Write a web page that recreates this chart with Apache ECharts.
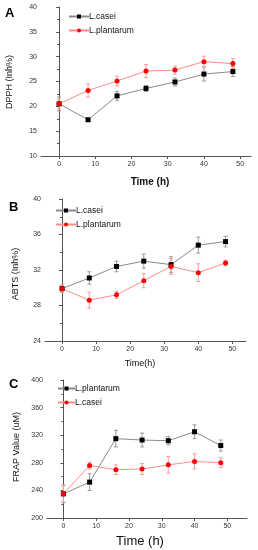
<!DOCTYPE html>
<html><head><meta charset="utf-8">
<script src="https://cdn.jsdelivr.net/npm/echarts@6/dist/echarts.min.js"></script>
<style>html,body{margin:0;padding:0;background:#fff}#c{width:258px;height:550px}</style>
</head><body><div id="c"></div>
<script>
var times = [0, 8, 16, 24, 32, 40, 48];
// Panel A: DPPH
var dpphCasei = [20.5, 17.3, 22.1, 23.6, 24.9, 26.5, 27.0];
var dpphCaseiErr = [1.4, 0.3, 0.9, 0.6, 0.8, 1.4, 1.0];
var dpphPlant = [20.5, 23.2, 25.1, 27.1, 27.3, 29.0, 28.6];
var dpphPlantErr = [1.0, 1.3, 1.0, 1.3, 0.8, 1.1, 1.0];
// Panel B: ABTS
var abtsCasei = [29.9, 31.1, 32.4, 33.0, 32.6, 34.8, 35.2];
var abtsCaseiErr = [0.4, 0.7, 0.6, 0.8, 0.9, 0.9, 0.6];
var abtsPlant = [29.9, 28.6, 29.2, 30.8, 32.4, 31.7, 32.8];
var abtsPlantErr = [0.4, 0.9, 0.4, 0.8, 0.9, 1.0, 0.3];
// Panel C: FRAP
var frapPlant = [235, 252, 315, 313, 312, 325, 305];
var frapPlantErr = [12, 12, 12, 10, 6, 10, 8];
var frapCasei = [235, 276, 270, 271, 277, 282, 280];
var frapCaseiErr = [13, 5, 7, 8, 12, 11, 7];

var BLACK_LINE = '#8a8a8a', BLACK_MARK = '#000000';
var RED_LINE = '#ff8c8c', RED_MARK = '#ff0000';
var ERR_BLACK = '#9a9a9a', ERR_RED = '#ff9a9a';

function pairs(v){ return times.map(function(t,i){ return [t, v[i]]; }); }
function errData(v,e){ return times.map(function(t,i){ return [t, v[i]-e[i], v[i]+e[i]]; }); }

function errSeries(idx, v, e, color){
  return {
    type:'custom', xAxisIndex:idx, yAxisIndex:idx, silent:true, z:1,
    data: errData(v,e),
    renderItem:function(params, api){
      var lo = api.coord([api.value(0), api.value(1)]);
      var hi = api.coord([api.value(0), api.value(2)]);
      var w = 2;
      var st = {stroke:color, lineWidth:1};
      return {type:'group', children:[
        {type:'line', shape:{x1:lo[0],y1:lo[1],x2:hi[0],y2:hi[1]}, style:st},
        {type:'line', shape:{x1:lo[0]-w,y1:lo[1],x2:lo[0]+w,y2:lo[1]}, style:st},
        {type:'line', shape:{x1:hi[0]-w,y1:hi[1],x2:hi[0]+w,y2:hi[1]}, style:st}
      ]};
    }
  };
}
function lineSeries(idx, name, v, black){
  return {
    type:'line', name:name, xAxisIndex:idx, yAxisIndex:idx, z:3,
    data:pairs(v), symbol: black ? 'rect' : 'circle', symbolSize: black ? 5 : 5,
    lineStyle:{color: black ? BLACK_LINE : RED_LINE, width:1},
    itemStyle:{color: black ? BLACK_MARK : RED_MARK},
    emphasis:{disabled:true}, animation:false
  };
}

var labelStyle = {fontFamily:'Liberation Sans, Arial', fontSize:7, color:'#333'};
function xAxis(idx, max){
  return {gridIndex:idx, type:'value', min:-5, max:max, interval:10,
    axisLine:{onZero:false, lineStyle:{color:'#555', width:1}},
    axisTick:{show:true, inside:false, length:3, lineStyle:{color:'#555'}, customValues:[0,10,20,30,40,50]},
    minorTick:{show:true, splitNumber:2, length:2, lineStyle:{color:'#555'}},
    splitLine:{show:false},
    axisLabel:Object.assign({margin:5, customValues:[0,10,20,30,40,50]}, labelStyle)
  };
}
function yAxis(idx, min, max, interval){
  return {gridIndex:idx, type:'value', min:min, max:max, interval:interval,
    axisLine:{show:true, lineStyle:{color:'#555', width:1}},
    axisTick:{show:true, inside:false, length:3, lineStyle:{color:'#555'}},
    minorTick:{show:true, splitNumber:2, length:2, lineStyle:{color:'#555'}},
    splitLine:{show:false},
    axisLabel:Object.assign({margin:4}, labelStyle)
  };
}
var legText = {fontFamily:'Liberation Sans, Arial', fontSize:8.5, color:'#111', padding:[0,0,0,-5]};

var option = {
  animation:false,
  grid:[
    {left:41, top:7, width:210, height:149},
    {left:45, top:199, width:201, height:142},
    {left:47, top:380, width:200, height:138}
  ],
  xAxis:[xAxis(0,53), xAxis(1,54), xAxis(2,56)],
  yAxis:[yAxis(0,10,40,5), yAxis(1,24,40,4), yAxis(2,200,400,40)],
  legend:[
    {data:['L.casei','L.plantarum'], left:68, top:12, orient:'vertical', itemWidth:20, itemHeight:5, itemGap:5, padding:0, selectedMode:false, textStyle:legText},
    {data:['L.casei ','L.plantarum '], left:55, top:206, orient:'vertical', itemWidth:20, itemHeight:5, itemGap:5, padding:0, selectedMode:false, textStyle:legText},
    {data:['L.plantarum  ','L.casei  '], left:57, top:384, orient:'vertical', itemWidth:17, itemHeight:5, itemGap:5, padding:0, selectedMode:false, textStyle:legText}
  ],
  series:[
    errSeries(0, dpphCasei, dpphCaseiErr, ERR_BLACK),
    errSeries(0, dpphPlant, dpphPlantErr, ERR_RED),
    lineSeries(0, 'L.casei', dpphCasei, true),
    lineSeries(0, 'L.plantarum', dpphPlant, false),
    errSeries(1, abtsCasei, abtsCaseiErr, ERR_BLACK),
    errSeries(1, abtsPlant, abtsPlantErr, ERR_RED),
    lineSeries(1, 'L.casei ', abtsCasei, true),
    lineSeries(1, 'L.plantarum ', abtsPlant, false),
    errSeries(2, frapPlant, frapPlantErr, ERR_BLACK),
    errSeries(2, frapCasei, frapCaseiErr, ERR_RED),
    lineSeries(2, 'L.plantarum  ', frapPlant, true),
    lineSeries(2, 'L.casei  ', frapCasei, false)
  ],
  graphic:[
    {type:'text', left:5, top:7, style:{text:'A', font:'bold 13px Liberation Sans, Arial', fill:'#000'}},
    {type:'text', left:9, top:201, style:{text:'B', font:'bold 13px Liberation Sans, Arial', fill:'#000'}},
    {type:'text', left:9, top:378, style:{text:'C', font:'bold 13px Liberation Sans, Arial', fill:'#000'}},
    {type:'text', x:10, y:82, rotation:Math.PI/2, style:{text:'DPPH (Inh%)', font:'9px Liberation Sans, Arial', fill:'#111', align:'center', verticalAlign:'middle'}},
    {type:'text', x:16, y:274, rotation:Math.PI/2, style:{text:'ABTS (Inh%)', font:'9px Liberation Sans, Arial', fill:'#111', align:'center', verticalAlign:'middle'}},
    {type:'text', x:17, y:447, rotation:Math.PI/2, style:{text:'FRAP Value (uM)', font:'9px Liberation Sans, Arial', fill:'#111', align:'center', verticalAlign:'middle'}},
    {type:'text', x:150, y:182, style:{text:'Time (h)', font:'bold 10px Liberation Sans, Arial', fill:'#111', align:'center', verticalAlign:'middle'}},
    {type:'text', x:140, y:364, style:{text:'Time(h)', font:'9px Liberation Sans, Arial', fill:'#111', align:'center', verticalAlign:'middle'}},
    {type:'text', x:140, y:541, style:{text:'Time (h)', font:'13px Liberation Sans, Arial', fill:'#111', align:'center', verticalAlign:'middle'}}
  ]
};
var chart = echarts.init(document.getElementById('c'), null, {renderer:'canvas'});
chart.setOption(option);
</script></body></html>
